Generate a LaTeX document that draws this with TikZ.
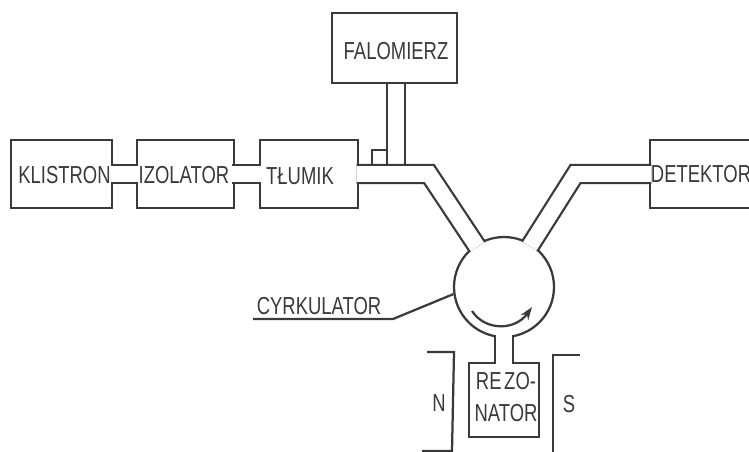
\documentclass[tikz,border=0pt]{standalone}
\usepackage{fontspec}
\setmainfont[FakeStretch=0.75]{Liberation Sans}
\usetikzlibrary{shapes,arrows.meta,calc,positioning}
\definecolor{inkgray}{RGB}{58, 58, 58}

\begin{document}
\begin{tikzpicture}[
      x=0.02cm, y=-0.02cm,
      box/.style={rectangle, draw=inkgray, line width=0.045cm, inner sep=0pt, minimum height=1.37cm},
      guide/.style={draw=inkgray, line width=0.045cm, double=white, double distance=0.315cm, shorten <=-1.4pt, shorten >=-1.4pt, line join=miter},
      lab/.style={inkgray, inner sep=0pt, align=center, font=\fontsize{14}{18.7}\selectfont},
      thin line/.style={draw=inkgray, line width=0.045cm},
      arrow/.style={-{Stealth[length=0.26cm,width=0.18cm]}, draw=inkgray, line width=0.045cm}
    ]
      \useasboundingbox (0,0) rectangle (749,452);

      \node[box, minimum width=2.02cm] (klistron) at (61.5,174) {};
      \node[box, minimum width=1.94cm, right=0.45cm of klistron] (izolator) {};
      \node[box, minimum width=1.96cm, right=0.48cm of izolator] (tlumik) {};
      \node[box, minimum width=2.5cm, minimum height=1.4cm] (falomierz) at (394.5,48) {};
      \node[box, minimum width=2.04cm] (detektor) at (701,174) {};
      \node[box, minimum width=1.4cm, minimum height=1.48cm] (rezonator) at (504,400) {};
      \node[circle, draw=inkgray, line width=0.045cm, minimum size=2cm, inner sep=0pt] (cyrk) at (504,287) {};
      \node[rectangle, draw=inkgray, line width=0.045cm, minimum size=0.3cm, inner sep=0pt] (stub) at (379.5,157.5) {};

      \coordinate (port) at (396,165);
      \coordinate (bendl) at (429,174);
      \coordinate (bendr) at (575.5,174);

      % waveguides
      \draw[guide, shorten <=0pt] (falomierz.south -| port) -- (port);
      \draw[guide] (klistron) -- (izolator);
      \draw[guide] (izolator) -- (tlumik);
      \draw[guide, shorten >=-1.7pt] (tlumik.east) -- (bendl) -- (cyrk);
      \draw[guide, shorten >=-1.7pt] (detektor.west) -- (bendr) -- (cyrk);
      \draw[guide, shorten <=-1.7pt] (cyrk) -- (rezonator);

      \node[lab] (klistrontxt) at (64.5,175) {KLISTRON};
      \node[lab] (izolatortxt) at (184,175) {IZOLATOR};
      \node[lab] (tlumiktxt) at (300,176) {TŁUMIK};
      \node[lab] (falomierztxt) at (396,51) {FALOMIERZ};
      \node[lab] (detektortxt) at (701,174) {DETEKTOR};
      \node[lab] (rezonatortxt) at (506,397) {RE\kern1.5pt ZO-\\NATOR};
      \node[lab] (cyrktxt) at (319,306) {CYRKULATOR};
      \node[lab] (ntxt) at (439,403) {N};
      \node[lab] (stxt) at (569,404) {S};

      % leader of the circulator
      \coordinate (ulstart) at (253,319);
      \coordinate (ulend) at (393,319);
      \draw[thin line] (ulstart) -- (ulend) -- (cyrk.188);

      % sense of rotation
      \draw[arrow] (472,311) .. controls (485,331) and (515,331) .. (532,307);

      % magnet poles
      \draw[thin line] (427,352) -- (454,352) -- (452,451) -- (422,451);
      \draw[thin line] (580,355) -- (553,355) -- (553,452);
    \end{tikzpicture}
\end{document}
